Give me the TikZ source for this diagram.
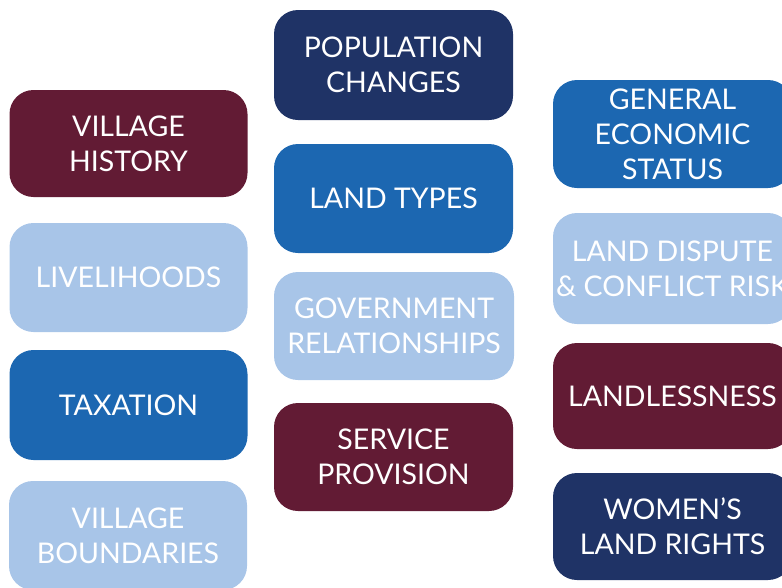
\documentclass[tikz,border=0pt]{standalone}
\usepackage{fontspec}
\setmainfont{Lato}
\definecolor{cmaroon}{HTML}{621B34}
\definecolor{cnavy}{HTML}{1F3366}
\definecolor{cmed}{HTML}{1C67B1}
\definecolor{clight}{HTML}{A8C5E8}
\begin{document}
\begin{tikzpicture}[x=1pt,y=-1pt,
  tile/.style={rectangle, rounded corners=24pt, draw=none, text=white, align=center,
    inner sep=0pt, minimum width=238pt,
    font=\fontsize{28.5}{35}\selectfont},
  maroon/.style={tile, fill=cmaroon},
  navy/.style={tile, fill=cnavy},
  med/.style={tile, fill=cmed},
  light/.style={tile, fill=clight}]
\useasboundingbox (0,0) rectangle (782,587);
\begin{scope}
\clip (0,0) rectangle (782,587);
% column 1
\node[maroon, minimum height=107pt] (vh) at (128.5,143.5) {VILLAGE\\HISTORY};
\node[light, minimum height=109pt] (lv) at (128.5,277.5) {LIVELIHOODS};
\node[med, minimum height=110pt] (tx) at (128.5,405) {TAXATION};
\node[light, minimum height=109pt] (vb) at (128,535.5) {VILLAGE\\BOUNDARIES};
% column 2
\node[navy, minimum width=239pt, minimum height=110pt] (pc) at (393.5,65) {POPULATION\\CHANGES};
\node[med, minimum width=239pt, minimum height=109pt] (lt) at (393.5,198.5) {LAND TYPES};
\node[light, minimum width=240pt, minimum height=108pt] (gr) at (394,326) {GOVERNMENT\\RELATIONSHIPS};
\node[maroon, minimum width=239pt, minimum height=108pt] (sp) at (393.5,457) {SERVICE\\PROVISION};
% column 3
\node[med, minimum width=239pt, minimum height=108pt] (ge) at (672.5,134) {GENERAL\\ECONOMIC\\STATUS};
\node[light, minimum width=239pt, minimum height=111pt] (ld) at (672.5,268.5) {LAND DISPUTE\\\& CONFLICT RISK};
\node[maroon, minimum width=239pt, minimum height=106pt] (ll) at (672.5,396) {LANDLESSNESS};
\node[navy, minimum width=239pt, minimum height=107pt] (wr) at (672.5,526.5) {WOMEN’S\\LAND RIGHTS};
\end{scope}
\end{tikzpicture}
\end{document}
